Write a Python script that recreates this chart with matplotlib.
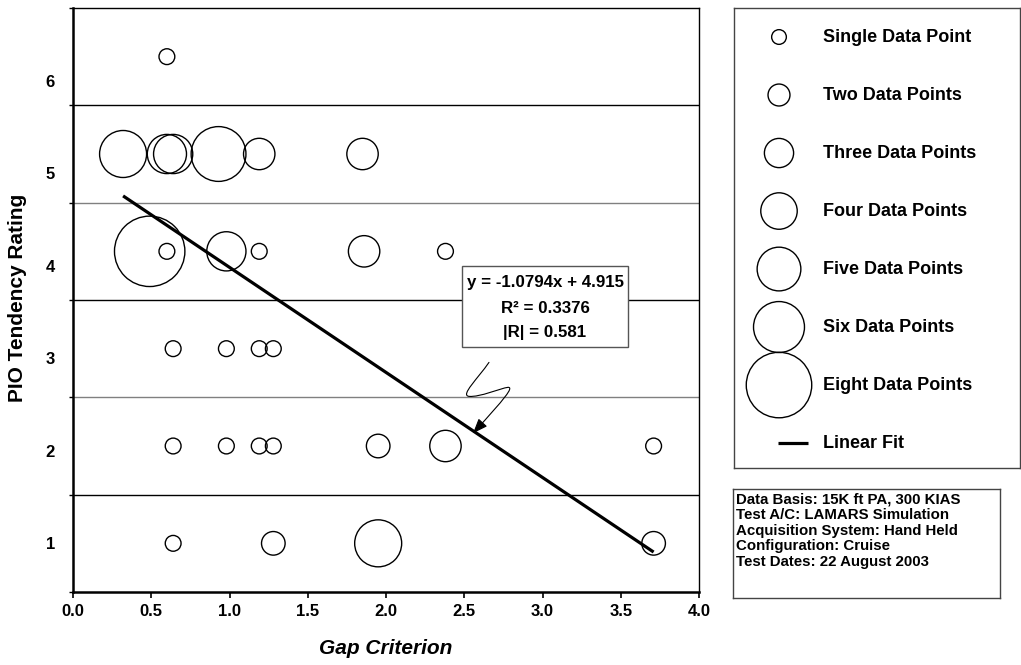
import numpy as np
import matplotlib
matplotlib.use("Agg")
from matplotlib import pyplot as plt
from matplotlib.patches import Rectangle, FancyArrowPatch
from matplotlib.path import Path

plt.rcParams['font.family'] = ['Liberation Sans', 'DejaVu Sans']
plt.rcParams['font.weight'] = 'bold'

# data: gap criterion, PIO rating, number of coincident points
gap = [0.60,
       0.32, 0.60, 0.64, 0.93, 1.19, 1.85,
       0.49, 0.60, 0.98, 1.19, 1.86, 2.38,
       0.64, 0.98, 1.19, 1.28,
       0.64, 0.98, 1.19, 1.28, 1.95, 2.38, 3.71,
       0.64, 1.28, 1.95, 3.71]
rating = [6,
          5, 5, 5, 5, 5, 5,
          4, 4, 4, 4, 4, 4,
          3, 3, 3, 3,
          2, 2, 2, 2, 2, 2, 2,
          1, 1, 1, 1]
count = [1,
         5, 4, 4, 6, 3, 3,
         8, 1, 4, 1, 3, 1,
         1, 1, 1, 1,
         1, 1, 1, 1, 2, 3, 1,
         1, 2, 5, 2]

slope, intercept = -1.0794, 4.915
r2, r_abs = 0.3376, 0.581

legend_counts = [1, 2, 3, 4, 5, 6, 8]
legend_labels = ['Single Data Point', 'Two Data Points', 'Three Data Points',
                 'Four Data Points', 'Five Data Points', 'Six Data Points',
                 'Eight Data Points']
x_ticks = [0.0, 0.5, 1.0, 1.5, 2.0, 2.5, 3.0, 3.5, 4.0]
y_labels = ['1', '2', '3', '4', '5', '6']
info_lines = ['Data Basis: 15K ft PA, 300 KIAS',
              'Test A/C: LAMARS Simulation',
              'Acquisition System: Hand Held',
              'Configuration: Cruise',
              'Test Dates: 22 August 2003']


def bubble_area(n, scale=1.0):
    d_px = (7.8 * np.asarray(n) + 8) * scale
    return (d_px * 0.72) ** 2


W, H = 1021, 665
fig = plt.figure(figsize=(W / 100, H / 100), dpi=100)
ax = fig.add_axes([73 / W, 73 / H, 626 / W, 584 / H])
ax.set_xlim(0, 4)
ax.set_ylim(0.5, 6.5)

# band lines between ratings
band_y = np.arange(1.5, 6.0, 1.0)
band_col = ['black', '#808080', 'black', '#808080', 'black']
for yv, c in zip(band_y, band_col):
    ax.axhline(yv, color=c, lw=1.0, zorder=1)

ax.scatter(gap, rating, s=bubble_area(count), facecolors='none',
           edgecolors='black', linewidths=1.0, zorder=4)

xf = np.array([min(gap), max(gap)])
ax.plot(xf, slope * xf + intercept, color='black', lw=2.3, zorder=3,
        solid_capstyle='butt')

# ticks
ax.set_xticks(x_ticks)
ax.set_xticklabels(['%.1f' % v for v in x_ticks])
ax.tick_params(axis='x', direction='out', length=4, width=1.2, pad=5,
               labelsize=12)
ax.set_yticks(np.linspace(1, 5.75, 6))
ax.set_yticklabels(y_labels)
ax.tick_params(axis='y', which='major', length=0, pad=13, labelsize=12)
ax.set_yticks(np.arange(0.5, 7.0, 1.0), minor=True)
ax.tick_params(axis='y', which='minor', direction='out', length=3, width=1)
for lab in ax.get_xticklabels() + ax.get_yticklabels():
    lab.set_fontweight('bold')

for side in ['left', 'bottom']:
    ax.spines[side].set_linewidth(1.8)
for side in ['top', 'right']:
    ax.spines[side].set_linewidth(1.0)

fig.text(386 / W, 1 - 649 / H, 'Gap Criterion', ha='center', va='center',
         fontsize=15, fontweight='bold', fontstyle='italic')
fig.text(18 / W, 1 - 298 / H, 'PIO Tendency Rating', ha='center', va='center',
         rotation=90, fontsize=15, fontweight='bold')

# regression annotation box
ax.add_patch(Rectangle((2.486, 3.013), 1.06, 0.841, facecolor='white',
                       edgecolor='#555555', lw=1.0, zorder=5))
fit_txt = ['y = %.4fx + %.3f' % (slope, intercept),
           'R² = %.4f' % r2,
           '|R| = %.3f' % r_abs]
for t, yv in zip(fit_txt, [3.679, 3.413, 3.167]):
    ax.text(3.016, yv, t, ha='center', va='center', fontsize=12.2,
            fontweight='bold', zorder=6)

# squiggly pointer to the fit line
verts = [(2.658, 2.859),
         (2.588, 2.695), (2.473, 2.521), (2.530, 2.510),
         (2.601, 2.500), (2.728, 2.592), (2.780, 2.603),
         (2.818, 2.603), (2.760, 2.490), (2.556, 2.131)]
codes = [Path.MOVETO] + [Path.CURVE4] * 9
arrow = FancyArrowPatch(path=Path(verts, codes),
                        arrowstyle='-|>,head_length=9,head_width=3.5',
                        color='black', lw=0.8, zorder=6)
ax.add_patch(arrow)

# legend box
lax = fig.add_axes([734 / W, 1 - 468 / H, 286 / W, 460 / H])
lax.set_xlim(0, 286)
lax.set_ylim(7.43, -0.5)
lax.set_xticks([])
lax.set_yticks([])
for sp in lax.spines.values():
    sp.set_linewidth(1.0)
    sp.set_color('#444444')
rows = np.arange(len(legend_counts) + 1)
lax.scatter([45] * len(legend_counts), rows[:-1],
            s=bubble_area(legend_counts, 0.93), facecolors='none',
            edgecolors='black', linewidths=1.0)
lax.plot([44, 74], [rows[-1], rows[-1]], color='black', lw=2.3,
         solid_capstyle='butt')
for lbl, r in zip(legend_labels + ['Linear Fit'], rows):
    lax.text(89, r, lbl, ha='left', va='center', fontsize=13,
             fontweight='bold')

# test info box
iax = fig.add_axes([733 / W, 1 - 598 / H, 267 / W, 109 / H])
iax.set_xlim(0, 267)
iax.set_ylim(109, 0)
iax.set_xticks([])
iax.set_yticks([])
for sp in iax.spines.values():
    sp.set_linewidth(1.0)
    sp.set_color('#444444')
for i, t in enumerate(info_lines):
    iax.text(3, 10 + 15.75 * i, t, ha='left', va='center', fontsize=10.8,
             fontweight='bold')

fig.savefig('out.png', dpi=100)
